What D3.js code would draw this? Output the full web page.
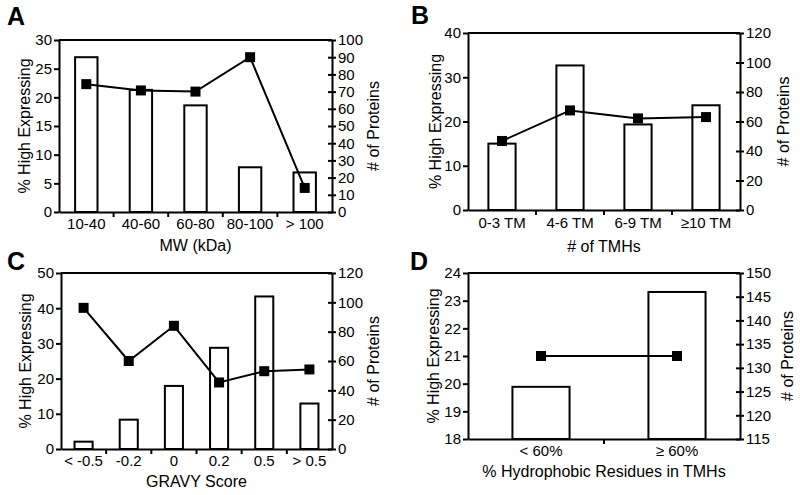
<!DOCTYPE html>
<meta charset="utf-8">
<html>
<head>
<script src="https://d3js.org/d3.v7.min.js"></script>
<style>
  body { margin: 0; background: white; }
  svg { font-family: "Liberation Sans", Arial, Helvetica, sans-serif; }
  .axis path, .axis line { stroke: black; stroke-width: 2px; }
  .axis text { font-size: 15px; fill: black; }
</style>
</head>
<body>
<svg id="chart" width="800" height="495"></svg>
<script>
// ---- data ----
// A: molecular weight
var mwCats = ["10-40", "40-60", "60-80", "80-100", "> 100"];
var mwProteins = [90, 71, 62, 26, 23];
var mwHigh = [22.3, 21.2, 21.0, 27.0, 4.2];
var mwLeftTicks = [0, 5, 10, 15, 20, 25, 30];
var mwRightTicks = [0, 10, 20, 30, 40, 50, 60, 70, 80, 90, 100];

// B: number of TMHs
var tmCats = ["0-3 TM", "4-6 TM", "6-9 TM", "\u226510 TM"];
var tmProteins = [45, 98, 58, 71];
var tmHigh = [15.6, 22.5, 20.7, 21.0];
var tmLeftTicks = [0, 10, 20, 30, 40];
var tmRightTicks = [0, 20, 40, 60, 80, 100, 120];

// C: GRAVY score
var gravyCats = ["< -0.5", "-0.2", "0", "0.2", "0.5", "> 0.5"];
var gravyProteins = [5, 20, 43, 69, 104, 31];
var gravyHigh = [40.1, 25.0, 35.0, 18.9, 22.1, 22.6];
var gravyLeftTicks = [0, 10, 20, 30, 40, 50];
var gravyRightTicks = [0, 20, 40, 60, 80, 100, 120];

// D: hydrophobic residues
var hydroCats = ["< 60%", "\u2265 60%"];
var hydroProteins = [126, 146];
var hydroHigh = [21.0, 21.0];
var hydroLeftTicks = [18, 19, 20, 21, 22, 23, 24];
var hydroRightTicks = [115, 120, 125, 130, 135, 140, 145, 150];

var svg = d3.select("#chart");

function drawPanel(opt) {
  var g = svg.append("g");
  var x = d3.scaleBand().domain(opt.cats).range([opt.left, opt.right]).padding(0);
  var yL = d3.scaleLinear().domain(d3.extent(opt.leftTicks)).range([opt.bottom, opt.top]);
  var yR = d3.scaleLinear().domain(d3.extent(opt.rightTicks)).range([opt.bottom, opt.top]);
  var bw = x.bandwidth() * opt.barFrac;
  var shift = opt.shift || 0;

  // bars (# of proteins, right axis)
  g.selectAll("rect.bar")
    .data(opt.cats)
    .enter().append("rect")
      .attr("class", "bar")
      .attr("x", function(d) { return x(d) + x.bandwidth() / 2 - bw / 2 + shift; })
      .attr("y", function(d, i) { return yR(opt.proteins[i]); })
      .attr("width", bw)
      .attr("height", function(d, i) { return opt.bottom - yR(opt.proteins[i]); })
      .attr("fill", "white")
      .attr("stroke", "black")
      .attr("stroke-width", 2);

  // top of the frame
  g.append("line").attr("x1", opt.left).attr("x2", opt.right)
    .attr("y1", opt.top).attr("y2", opt.top)
    .attr("stroke", "black").attr("stroke-width", 2);

  // left axis
  g.append("g").attr("class", "axis")
    .attr("transform", "translate(" + opt.left + ",0)")
    .call(d3.axisLeft(yL).tickValues(opt.leftTicks).tickFormat(d3.format("d"))
      .tickSize(5).tickSizeOuter(0).tickPadding(2));

  // right axis, ticks crossing the line
  var ra = g.append("g").attr("class", "axis")
    .attr("transform", "translate(" + opt.right + ",0)")
    .call(d3.axisRight(yR).tickValues(opt.rightTicks).tickFormat(d3.format("d"))
      .tickSize(5).tickSizeOuter(0).tickPadding(2));
  ra.selectAll(".tick line").attr("x1", -4).attr("x2", 4);
  ra.selectAll(".tick text").attr("x", 6);

  // bottom axis: labels at centers, ticks at boundaries
  var ba = g.append("g").attr("class", "axis")
    .attr("transform", "translate(0," + opt.bottom + ")")
    .call(d3.axisBottom(x).tickSize(0).tickSizeOuter(0).tickPadding(opt.xPad));
  ba.selectAll(".tick text").attr("dx", shift);
  ba.selectAll("line.bound")
    .data(opt.cats.slice(1))
    .enter().append("line")
      .attr("class", "bound")
      .attr("x1", function(d) { return x(d); })
      .attr("x2", function(d) { return x(d); })
      .attr("y1", 0).attr("y2", 5);

  // line (% high expressing, left axis)
  var pts = opt.cats.map(function(c, i) {
    return [x(c) + x.bandwidth() / 2 + shift, yL(opt.high[i])];
  });
  g.append("path")
    .attr("d", d3.line()(pts))
    .attr("fill", "none")
    .attr("stroke", "black")
    .attr("stroke-width", 2);
  g.selectAll("rect.mark")
    .data(pts)
    .enter().append("rect")
      .attr("class", "mark")
      .attr("x", function(d) { return d[0] - 5; })
      .attr("y", function(d) { return d[1] - 5; })
      .attr("width", 10).attr("height", 10)
      .attr("fill", "black");

  // titles
  g.append("text")
    .attr("x", (opt.left + opt.right) / 2)
    .attr("y", opt.xTitleY)
    .attr("text-anchor", "middle")
    .style("font-size", "16px")
    .text(opt.xTitle);
  g.append("text")
    .attr("transform", "translate(" + opt.yTitleX + "," + (opt.top + opt.bottom) / 2 + ")rotate(-90)")
    .attr("text-anchor", "middle")
    .attr("dy", "0.35em")
    .style("font-size", "16px")
    .text("% High Expressing");
  g.append("text")
    .attr("transform", "translate(" + opt.y2TitleX + "," + (opt.top + opt.bottom) / 2 + ")rotate(-90)")
    .attr("text-anchor", "middle")
    .attr("dy", "0.35em")
    .style("font-size", "16px")
    .text("# of Proteins");
  g.append("text")
    .attr("x", opt.letterX).attr("y", opt.letterY)
    .style("font-size", "25px")
    .style("font-weight", "bold")
    .text(opt.letter);
}

drawPanel({ letter: "A", letterX: 7, letterY: 25,
  cats: mwCats, proteins: mwProteins, high: mwHigh,
  leftTicks: mwLeftTicks, rightTicks: mwRightTicks,
  left: 59, right: 332, top: 40, bottom: 212, barFrac: 0.41, xPad: 6,
  xTitle: "MW (kDa)", xTitleY: 251, yTitleX: 24, y2TitleX: 373 });

drawPanel({ letter: "B", letterX: 411, letterY: 24,
  cats: tmCats, proteins: tmProteins, high: tmHigh,
  leftTicks: tmLeftTicks, rightTicks: tmRightTicks,
  left: 468, right: 740, top: 33, bottom: 210, barFrac: 0.40, xPad: 7,
  xTitle: "# of TMHs", xTitleY: 252, yTitleX: 435, y2TitleX: 783 });

drawPanel({ letter: "C", letterX: 7, letterY: 270,
  cats: gravyCats, proteins: gravyProteins, high: gravyHigh,
  leftTicks: gravyLeftTicks, rightTicks: gravyRightTicks,
  left: 61, right: 332, top: 273, bottom: 449, barFrac: 0.40, xPad: 6,
  xTitle: "GRAVY Score", xTitleY: 487, yTitleX: 25, y2TitleX: 373 });

drawPanel({ letter: "D", letterX: 410, letterY: 270,
  cats: hydroCats, proteins: hydroProteins, high: hydroHigh,
  leftTicks: hydroLeftTicks, rightTicks: hydroRightTicks,
  left: 468, right: 740, top: 273, bottom: 439, barFrac: 0.42, xPad: 6, shift: 5,
  xTitle: "% Hydrophobic Residues in TMHs", xTitleY: 477, yTitleX: 433, y2TitleX: 787 });
</script>
</body>
</html>
